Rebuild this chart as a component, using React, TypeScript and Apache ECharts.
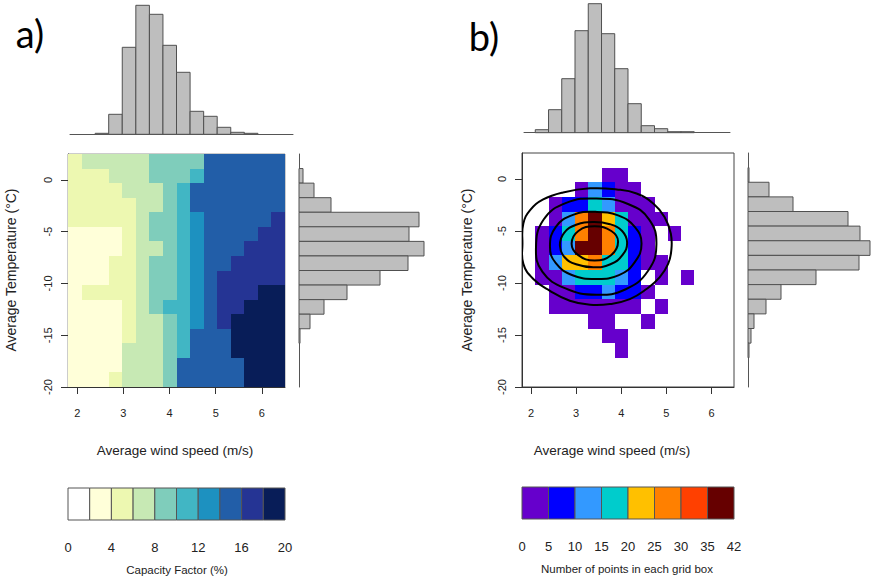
import React, { useEffect, useRef } from "react";
import * as echarts from "echarts";

const FONT = "'Liberation Sans', Arial, sans-serif";

// grid cell edges (wind speed columns, temperature rows from top to bottom)
const windEdges = [1.8, 2.094, 2.388, 2.681, 2.975, 3.269, 3.563, 3.856, 4.15, 4.444, 4.738, 5.031, 5.325, 5.619, 5.913, 6.206, 6.5];
const tempEdges = [2.5, 1.094, -0.313, -1.719, -3.125, -4.531, -5.938, -7.344, -8.75, -10.156, -11.563, -12.969, -14.375, -15.781, -17.188, -18.594, -20];

const windTicks = [2, 3, 4, 5, 6];
const tempTicks = [0, -5, -10, -15, -20];

// colour scales
const cfBreaks = [0, 2, 4, 6, 8, 10, 12, 14, 16, 18, 20];
const cfColors = ["#FFFFFF", "#FFFFD9", "#EDF8B1", "#C7E9B4", "#7FCDBB", "#41B6C4", "#1D91C0", "#225EA8", "#253494", "#081D58"];
const cfLabels = [0, 4, 8, 12, 16, 20];

const countBreaks = [0, 5, 10, 15, 20, 25, 30, 35, 42];
const countColors = ["#6600CC", "#0000FF", "#3399FF", "#00CCCC", "#FFC000", "#FF8000", "#FF4000", "#660000"];

// a) capacity factor (%) per grid box, rows from top (warm) to bottom (cold)
const capacityFactor = [
  [5, 7, 7, 7, 7, 7, 9, 9, 9, 9, 15, 15, 15, 15, 15, 15],
  [5, 5, 5, 7, 7, 7, 9, 9, 9, 11, 15, 15, 15, 15, 15, 15],
  [5, 5, 5, 5, 7, 7, 7, 9, 11, 15, 15, 15, 15, 15, 15, 15],
  [5, 5, 5, 5, 5, 7, 7, 9, 11, 15, 15, 15, 15, 15, 15, 15],
  [5, 5, 5, 5, 5, 7, 9, 9, 11, 13, 15, 15, 15, 15, 15, 17],
  [3, 3, 3, 3, 5, 7, 9, 9, 11, 13, 15, 15, 15, 15, 17, 17],
  [3, 3, 3, 3, 5, 7, 7, 9, 11, 13, 15, 15, 15, 17, 17, 17],
  [3, 3, 3, 5, 5, 7, 9, 9, 11, 13, 15, 15, 17, 17, 17, 17],
  [3, 3, 3, 5, 5, 7, 9, 9, 11, 13, 15, 17, 17, 17, 17, 17],
  [3, 5, 5, 5, 5, 7, 9, 9, 11, 13, 15, 17, 17, 17, 19, 19],
  [3, 3, 3, 3, 5, 7, 9, 11, 11, 13, 15, 17, 17, 19, 19, 19],
  [3, 3, 3, 3, 5, 7, 7, 9, 11, 13, 15, 17, 19, 19, 19, 19],
  [3, 3, 3, 3, 5, 7, 7, 9, 11, 15, 15, 15, 19, 19, 19, 19],
  [3, 3, 3, 3, 7, 7, 7, 9, 11, 15, 15, 15, 19, 19, 19, 19],
  [3, 3, 3, 3, 7, 7, 7, 9, 15, 15, 15, 15, 15, 19, 19, 19],
  [3, 3, 3, 5, 7, 7, 7, 9, 15, 15, 15, 15, 15, 19, 19, 19],
];

// b) number of points per grid box
const pointCounts = [
  [0, 0, 0, 0, 0, 0, 0, 0, 0, 0, 0, 0, 0, 0, 0, 0],
  [0, 0, 0, 0, 0, 0, 3, 3, 0, 0, 0, 0, 0, 0, 0, 0],
  [0, 0, 0, 0, 3, 12, 8, 3, 3, 0, 0, 0, 0, 0, 0, 0],
  [0, 0, 3, 8, 8, 17, 12, 3, 3, 3, 0, 0, 0, 0, 0, 0],
  [0, 0, 3, 12, 27, 38, 22, 17, 3, 3, 3, 0, 0, 0, 0, 0],
  [0, 3, 8, 17, 27, 38, 28, 17, 8, 3, 0, 3, 0, 0, 0, 0],
  [0, 3, 8, 12, 38, 38, 28, 17, 8, 3, 0, 0, 0, 0, 0, 0],
  [0, 3, 12, 22, 22, 28, 17, 17, 8, 3, 3, 0, 0, 0, 0, 0],
  [0, 3, 3, 12, 17, 17, 17, 12, 8, 0, 3, 0, 3, 0, 0, 0],
  [0, 0, 3, 3, 8, 8, 12, 8, 8, 3, 0, 0, 0, 0, 0, 0],
  [0, 0, 3, 3, 3, 3, 3, 3, 3, 0, 3, 0, 0, 0, 0, 0],
  [0, 0, 0, 0, 0, 3, 3, 0, 0, 3, 0, 0, 0, 0, 0, 0],
  [0, 0, 0, 0, 0, 0, 3, 3, 0, 0, 0, 0, 0, 0, 0, 0],
  [0, 0, 0, 0, 0, 0, 0, 3, 0, 0, 0, 0, 0, 0, 0, 0],
  [0, 0, 0, 0, 0, 0, 0, 0, 0, 0, 0, 0, 0, 0, 0, 0],
  [0, 0, 0, 0, 0, 0, 0, 0, 0, 0, 0, 0, 0, 0, 0, 0],
];

// marginal histograms (counts per column / row bin)
const windHistA = [0, 0, 1, 20, 87, 129, 120, 89, 62, 23, 18, 7, 2, 1, 0, 0];
const windHistB = [0, 3, 23, 54, 102, 129, 99, 64, 29, 7, 4, 1, 1, 0, 0, 0];
const tempHistA = [0, 4, 15, 32, 120, 110, 125, 109, 81, 48, 25, 11, 1, 0, 0, 0];
const tempHistB = [0, 1, 21, 45, 100, 112, 122, 111, 68, 33, 18, 6, 3, 1, 0, 0];

// density contours (wind speed, temperature), outer to inner
const contourRings: number[][][] = [
  [[1.83, -4.29], [1.98, -3.0], [2.27, -1.97], [2.71, -1.29], [3.31, -0.9], [3.9, -1.0], [4.34, -1.39], [4.71, -2.35], [4.96, -3.65], [5.1, -5.26], [5.11, -6.87], [5.04, -8.16], [4.85, -9.46], [4.56, -10.58], [4.19, -11.55], [3.75, -12.03], [3.31, -12.1], [2.86, -11.71], [2.42, -10.75], [2.05, -9.61], [1.83, -8.16], [1.81, -6.2]],
  [[4.78, -6.3], [4.62, -3.9], [4.15, -2.4], [3.45, -1.87], [2.78, -2.3], [2.28, -3.9], [2.11, -6.6], [2.25, -8.9], [2.75, -10.5], [3.45, -11.13], [4.1, -10.6], [4.6, -8.8]],
  [[4.45, -6.2], [4.3, -4.6], [3.93, -3.5], [3.43, -3.16], [2.93, -3.45], [2.55, -4.6], [2.42, -6.5], [2.55, -8.1], [2.92, -9.25], [3.43, -9.61], [3.95, -9.25], [4.3, -8.0]],
  [[4.13, -6.1], [4.02, -5.0], [3.75, -4.35], [3.38, -4.13], [3.0, -4.4], [2.73, -5.2], [2.64, -6.4], [2.74, -7.5], [3.0, -8.2], [3.38, -8.49], [3.76, -8.2], [4.03, -7.3]],
  [[3.93, -6.0], [3.78, -5.0], [3.41, -4.55], [3.05, -5.0], [2.9, -6.2], [3.04, -7.3], [3.41, -7.84], [3.78, -7.3]],
];

const cfColor = (v: number) => {
  for (let i = 0; i < cfColors.length; i++) {
    if (v >= cfBreaks[i] && v < cfBreaks[i + 1]) return cfColors[i];
  }
  return cfColors[cfColors.length - 1];
};
const countColor = (v: number) => {
  if (v <= 0) return null;
  for (let i = 0; i < countColors.length; i++) {
    if (v > countBreaks[i] && v <= countBreaks[i + 1]) return countColors[i];
  }
  return countColors[countColors.length - 1];
};

const cellData = (grid: number[][]) => {
  const out: number[][] = [];
  grid.forEach((row, r) =>
    row.forEach((v, c) => out.push([windEdges[c], windEdges[c + 1], tempEdges[r + 1], tempEdges[r], v]))
  );
  return out;
};

const makeCellRender = (colorFn: (v: number) => string | null) => (params: any, api: any) => {
  const color = colorFn(api.value(4));
  if (!color) return { type: "group", children: [] };
  const p0 = api.coord([api.value(0), api.value(3)]);
  const p1 = api.coord([api.value(1), api.value(2)]);
  const x0 = Math.round(p0[0]);
  const y0 = Math.round(p0[1]);
  const x1 = Math.round(p1[0]);
  const y1 = Math.round(p1[1]);
  return {
    type: "rect",
    shape: { x: x0, y: y0, width: x1 - x0, height: y1 - y0 },
    style: { fill: color, stroke: null },
  };
};

const HIST_FILL = "#BEBEBE";
const HIST_STROKE = "#505050";

const topHistData = (h: number[]) =>
  h.map((v, i) => [windEdges[i], windEdges[i + 1], v]).filter((d) => d[2] > 0);
const sideHistData = (h: number[]) =>
  h.map((v, i) => [tempEdges[i], tempEdges[i + 1], v]).filter((d) => d[2] > 0);

const renderTopHist = (params: any, api: any) => {
  const p0 = api.coord([api.value(0), api.value(2)]);
  const p1 = api.coord([api.value(1), 0]);
  return {
    type: "rect",
    shape: { x: p0[0], y: p0[1], width: p1[0] - p0[0], height: p1[1] - p0[1] },
    style: { fill: HIST_FILL, stroke: HIST_STROKE, lineWidth: 1 },
  };
};
const renderSideHist = (params: any, api: any) => {
  const p0 = api.coord([0, api.value(0)]);
  const p1 = api.coord([api.value(2), api.value(1)]);
  return {
    type: "rect",
    shape: { x: p0[0], y: p0[1], width: p1[0] - p0[0], height: p1[1] - p0[1] },
    style: { fill: HIST_FILL, stroke: HIST_STROKE, lineWidth: 1 },
  };
};

const renderBarCell = (params: any, api: any) => {
  const p0 = api.coord([api.value(0), 1]);
  const p1 = api.coord([api.value(1), 0]);
  return {
    type: "rect",
    shape: { x: p0[0], y: p0[1], width: p1[0] - p0[0], height: p1[1] - p0[1] },
    style: { fill: api.value(3) === 0 ? cfColors[api.value(2)] : countColors[api.value(2)], stroke: "#555", lineWidth: 1 },
  };
};

const renderContour = (params: any, api: any) => {
  const ring = contourRings[params.dataIndex];
  const pts = ring.map((p) => api.coord(p));
  return {
    type: "polygon",
    shape: { points: pts, smooth: 0.45 },
    style: { fill: "none", stroke: "#000", lineWidth: 2 },
  };
};

const TXT = "#222";

const panelXAxis = (gridIndex: number) => ({
  type: "value",
  gridIndex,
  min: 1.8,
  max: 6.5,
  axisLine: { show: true, onZero: false, lineStyle: { color: "#333", width: 1 } },
  axisTick: { show: true, length: 7, customValues: windTicks, lineStyle: { color: "#333" } },
  axisLabel: { customValues: windTicks, margin: 20, fontSize: 11, color: TXT, fontFamily: FONT },
  splitLine: { show: false },
});
const panelYAxis = (gridIndex: number) => ({
  type: "value",
  gridIndex,
  min: -20,
  max: 2.5,
  axisLine: { show: true, onZero: false, lineStyle: { color: "#333", width: 1 } },
  axisTick: { show: true, length: 7, customValues: tempTicks, lineStyle: { color: "#333" } },
  axisLabel: { customValues: tempTicks, rotate: 90, margin: 15, fontSize: 11, color: TXT, fontFamily: FONT },
  splitLine: { show: false },
});
const hidden = (gridIndex: number, min: number, max: number) => ({
  type: "value",
  gridIndex,
  min,
  max,
  show: false,
});
const baseline = (gridIndex: number, min: number, max: number) => ({
  type: "value",
  gridIndex,
  min,
  max,
  axisLine: { show: true, onZero: false, lineStyle: { color: "#555", width: 1 } },
  axisTick: { show: false },
  axisLabel: { show: false },
  splitLine: { show: false },
});

const text = (t: string, x: number, y: number, size: number, extra: any = {}) => ({
  type: "text",
  x,
  y,
  ...extra,
  style: {
    text: t,
    fill: TXT,
    font: `${size}px ${FONT}`,
    align: "center",
    verticalAlign: "middle",
    ...(extra.style || {}),
  },
});

export default function App() {
  const ref = useRef<HTMLDivElement>(null);
  useEffect(() => {
    if (!ref.current) return;
    const chart = echarts.init(ref.current, null, { renderer: "svg" });
    const option: any = {
      animation: false,
      backgroundColor: "#fff",
      textStyle: { fontFamily: FONT },
      grid: [
        { left: 68, top: 154, width: 217, height: 233, show: true, borderColor: "#999", borderWidth: 1 },
        { left: 522, top: 153, width: 212, height: 234, show: true, borderColor: "#444", borderWidth: 1 },
        { left: 70, top: 4.3, width: 223, height: 130 },
        { left: 524, top: 2.7, width: 206, height: 130 },
        { left: 299, top: 154, width: 126, height: 233 },
        { left: 748, top: 153, width: 123, height: 234 },
        { left: 68, top: 488, width: 217, height: 32 },
        { left: 522, top: 487, width: 212, height: 32 },
      ],
      xAxis: [
        panelXAxis(0),
        panelXAxis(1),
        baseline(2, 1.843, 6.673),
        baseline(3, 1.844, 6.412),
        hidden(4, 0, 126),
        hidden(5, 0, 123),
        {
          type: "value",
          gridIndex: 6,
          min: 0,
          max: 20,
          axisLine: { show: false },
          axisTick: { show: false },
          splitLine: { show: false },
          axisLabel: { customValues: cfLabels, margin: 21, fontSize: 13, color: TXT, fontFamily: FONT },
        },
        {
          type: "value",
          gridIndex: 7,
          min: 0,
          max: 8,
          interval: 1,
          axisLine: { show: false },
          axisTick: { show: false },
          splitLine: { show: false },
          axisLabel: {
            margin: 21,
            fontSize: 13,
            color: TXT,
            fontFamily: FONT,
            formatter: (v: number) => String(countBreaks[Math.round(v)]),
          },
        },
      ],
      yAxis: [
        panelYAxis(0),
        panelYAxis(1),
        hidden(2, 0, 130),
        hidden(3, 0, 130),
        baseline(4, -20, 2.5),
        baseline(5, -20, 2.5),
        hidden(6, 0, 1),
        hidden(7, 0, 1),
      ],
      series: [
        {
          type: "custom",
          xAxisIndex: 0,
          yAxisIndex: 0,
          renderItem: makeCellRender(cfColor),
          encode: { x: [0, 1], y: [2, 3] },
          data: cellData(capacityFactor),
          clip: true,
          silent: true,
        },
        {
          type: "custom",
          xAxisIndex: 1,
          yAxisIndex: 1,
          renderItem: makeCellRender(countColor),
          encode: { x: [0, 1], y: [2, 3] },
          data: cellData(pointCounts),
          clip: true,
          silent: true,
        },
        {
          type: "custom",
          xAxisIndex: 1,
          yAxisIndex: 1,
          renderItem: renderContour,
          data: contourRings.map((r, i) => [r[0][0], r[0][1], i]),
          encode: { x: 0, y: 1 },
          clip: true,
          silent: true,
          z: 5,
        },
        {
          type: "custom",
          xAxisIndex: 2,
          yAxisIndex: 2,
          renderItem: renderTopHist,
          encode: { x: [0, 1], y: 2 },
          data: topHistData(windHistA),
          silent: true,
        },
        {
          type: "custom",
          xAxisIndex: 3,
          yAxisIndex: 3,
          renderItem: renderTopHist,
          encode: { x: [0, 1], y: 2 },
          data: topHistData(windHistB),
          silent: true,
        },
        {
          type: "custom",
          xAxisIndex: 4,
          yAxisIndex: 4,
          renderItem: renderSideHist,
          encode: { x: 2, y: [0, 1] },
          data: sideHistData(tempHistA),
          silent: true,
        },
        {
          type: "custom",
          xAxisIndex: 5,
          yAxisIndex: 5,
          renderItem: renderSideHist,
          encode: { x: 2, y: [0, 1] },
          data: sideHistData(tempHistB),
          silent: true,
        },
        {
          type: "custom",
          xAxisIndex: 6,
          yAxisIndex: 6,
          renderItem: renderBarCell,
          encode: { x: [0, 1] },
          data: cfColors.map((c, i) => [cfBreaks[i], cfBreaks[i + 1], i, 0]),
          silent: true,
        },
        {
          type: "custom",
          xAxisIndex: 7,
          yAxisIndex: 7,
          renderItem: renderBarCell,
          encode: { x: [0, 1] },
          data: countColors.map((c, i) => [i, i + 1, i, 1]),
          silent: true,
        },
      ],
      graphic: {
        elements: [
          {
            type: "text",
            x: 30,
            y: 33,
            style: { text: "a)", fill: "#000", font: "38px Lato, 'Open Sans', sans-serif", align: "center", verticalAlign: "middle" },
          },
          {
            type: "text",
            x: 484,
            y: 36,
            style: { text: "b)", fill: "#000", font: "38px Lato, 'Open Sans', sans-serif", align: "center", verticalAlign: "middle" },
          },
          text("Average Temperature (°C)", 11, 270, 14, { rotation: Math.PI / 2 }),
          text("Average Temperature (°C)", 467, 270, 14, { rotation: Math.PI / 2 }),
          text("Average wind speed (m/s)", 175, 450, 13.5),
          text("Average wind speed (m/s)", 612, 450, 13.5),
          text("Capacity Factor (%)", 177, 570, 11.5),
          text("Number of points in each grid box", 627, 569, 11.5),
        ],
      },
    };
    chart.setOption(option);
    return () => chart.dispose();
  }, []);
  return (
    <div
      ref={ref}
      style={{ position: "absolute", left: 0, top: 0, width: 871, height: 581, background: "#fff" }}
    />
  );
}
